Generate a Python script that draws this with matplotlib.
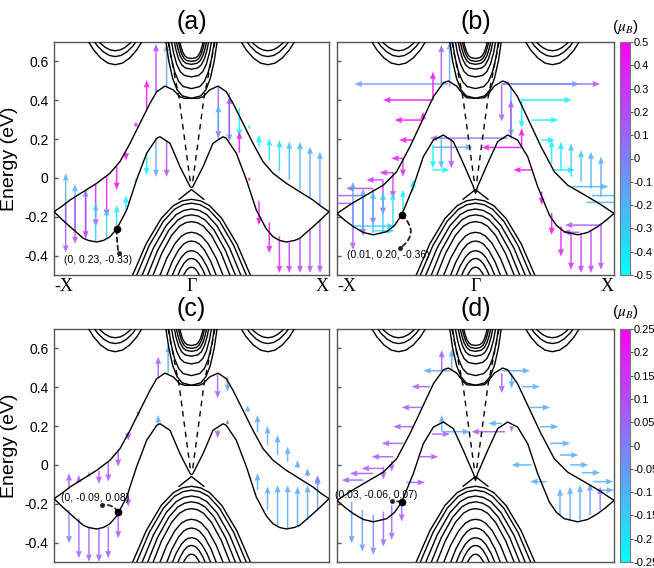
import numpy as np
import matplotlib
matplotlib.use('Agg')
from matplotlib import pyplot as plt
from matplotlib.colors import Normalize
from matplotlib.cm import ScalarMappable

plt.rcParams['font.family'] = ['Liberation Sans', 'DejaVu Sans']
plt.rcParams['mathtext.fontset'] = 'stix'

# surface bands, left half (-X .. Gamma), mirrored for the right half
UP_A_K = [-1.0, -0.94, -0.884, -0.787, -0.69, -0.593, -0.52, -0.447, -0.375, -0.302, -0.253, -0.193, -0.132, -0.084, -0.05, 0.0]
UP_A_E = [-0.174, -0.145, -0.114, -0.071, -0.028, 0.024, 0.084, 0.178, 0.281, 0.384, 0.444, 0.473, 0.453, 0.418, 0.41, 0.41]
LO_A_K = [-1.0, -0.94, -0.884, -0.787, -0.75, -0.69, -0.64, -0.593, -0.544, -0.471, -0.4, -0.326, -0.253, -0.229, -0.156, -0.084, -0.01, 0.0]
LO_A_E = [-0.174, -0.215, -0.251, -0.311, -0.322, -0.33, -0.322, -0.303, -0.263, -0.165, -0.011, 0.127, 0.204, 0.212, 0.178, 0.058, -0.045, -0.05]

UP_B_K = [-1.0, -0.9, -0.81, -0.665, -0.569, -0.473, -0.377, -0.304, -0.232, -0.196, -0.136, -0.09, -0.064, 0.0]
UP_B_E = [-0.183, -0.135, -0.097, -0.037, 0.032, 0.161, 0.307, 0.418, 0.49, 0.499, 0.473, 0.43, 0.413, 0.41]
LO_B_K = [-1.0, -0.94, -0.882, -0.81, -0.738, -0.641, -0.585, -0.533, -0.449, -0.377, -0.304, -0.232, -0.16, -0.088, -0.015, 0.0]
LO_B_E = [-0.183, -0.22, -0.251, -0.281, -0.293, -0.277, -0.245, -0.191, -0.045, 0.109, 0.195, 0.221, 0.187, 0.075, -0.045, -0.08]

# dashed lines (left one)
DASH_K = [-0.17, -0.09, -0.005]
DASH_E = [0.70, 0.41, -0.04]

# bulk bands
CB_BOTTOM = [0.41, 0.46, 0.52, 0.56, 0.585, 0.60, 0.615]
CB_HALF = [0.19, 0.17, 0.15, 0.13, 0.115, 0.10, 0.09]
CB_SHAPE_K = [0.0, 0.35, 0.55, 0.72, 0.87, 1.0]
CB_SHAPE_E = [0.0, 0.04, 0.14, 0.33, 0.62, 1.0]

SP_CENTER = 0.555
SP_BOTTOM = [0.583, 0.625, 0.655]
SP_HALF = [0.21, 0.17, 0.14]
SP_SHAPE_K = [0.0, 0.25, 0.5, 0.75, 1.0]
SP_SHAPE_E = [0.0, 0.06, 0.25, 0.56, 1.0]

VB_TOP = [-0.11, -0.13, -0.16, -0.19, -0.225, -0.28, -0.325, -0.375, -0.415, -0.46]
VB_HALF = [0.44, 0.41, 0.37, 0.33, 0.29, 0.24, 0.19, 0.15, 0.11, 0.07]
VB_SHAPE_K = [0.0, 0.15, 0.3, 0.5, 0.75, 1.0]
VB_SHAPE_E = [0.0, 0.02, 0.08, 0.24, 0.56, 1.0]
VTOP_K = [-0.09, 0.0, 0.09]
VTOP_E = [-0.11, -0.06, -0.11]

# spin arrows: vertical (k, E tail, E head, value), horizontal (E, k tail, k head, value)
VA_K = [-0.915, -0.915, -0.847, -0.847, -0.77, -0.77, -0.697, -0.697, -0.617, -0.617, -0.544, -0.544,
        -0.476, -0.476, -0.404, -0.404, -0.326, -0.326, -0.258, -0.258, -0.181, -0.181,
        0.195, 0.195, 0.275, 0.275, 0.348, 0.348, 0.42, 0.42, 0.491, 0.491, 0.566, 0.566,
        0.639, 0.639, 0.711, 0.711, 0.789, 0.789, 0.862, 0.862, 0.934, 0.934]
VA_E0 = [-0.23, -0.13, -0.27, -0.10, -0.315, -0.065, -0.03, -0.33, 0.01, -0.315, 0.06, -0.263,
         0.13, -0.17, 0.265, -0.02, 0.35, 0.127, 0.44, 0.204, 0.47, 0.19,
         0.47, 0.195, 0.44, 0.2, 0.36, 0.13, 0.27, 0.0, 0.16, -0.12, 0.09, -0.23,
         0.035, -0.30, -0.01, -0.33, -0.06, -0.31, -0.10, -0.265, -0.14, -0.215]
VA_E1 = [0.024, -0.385, -0.031, -0.34, -0.059, -0.311, -0.251, -0.131, -0.20, -0.157, -0.062, -0.14,
         0.09, -0.09, 0.29, 0.0, 0.504, 0.015, 0.69, 0.005, 0.69, 0.005,
         0.204, 0.375, 0.187, 0.418, 0.212, 0.238, 0.25, -0.02, 0.221, -0.243, 0.204, -0.388,
         0.195, -0.49, 0.187, -0.49, 0.187, -0.49, 0.161, -0.49, 0.135, -0.49]
VA_V = [-0.2, 0.15, -0.25, 0.2, -0.15, 0.3, 0.35, -0.3, 0.4, -0.35, 0.45, -0.4,
        0.45, -0.45, 0.45, -0.45, 0.45, -0.45, 0.25, -0.15, -0.15, 0.2,
        0.15, -0.2, -0.15, 0.2, -0.45, 0.45, -0.45, 0.45, -0.45, 0.45, -0.4, 0.4,
        -0.35, 0.35, -0.25, 0.3, -0.2, 0.25, -0.15, 0.2, -0.15, 0.2]

VB_K = [-0.247, -0.187, -0.307, -0.379, -0.524, -0.596, -0.668, -0.74, -0.812, -0.885,
        -0.885, -0.812, -0.74, -0.668, -0.596, -0.524, -0.451, -0.307, -0.247, -0.175,
        0.189, 0.256, 0.256, 0.333, 0.333, 0.478, 0.55, 0.55, 0.617, 0.617,
        0.69, 0.69, 0.762, 0.762, 0.834, 0.834, 0.906, 0.906]
VB_E0 = [0.487, 0.47, 0.40, 0.298, 0.101, 0.032, -0.011, -0.054, -0.09, -0.13,
         -0.24, -0.277, -0.285, -0.28, -0.25, -0.18, -0.07, 0.17, 0.212, 0.2,
         0.478, 0.47, 0.204, 0.41, 0.16, -0.07, -0.18, 0.075, -0.25, 0.04,
         -0.277, 0.006, -0.285, -0.02, -0.27, -0.054, -0.234, -0.097]
VB_E1 = [0.685, 0.70, 0.547, 0.341, 0.006, -0.105, -0.19, -0.243, -0.30, -0.371,
         -0.02, -0.054, -0.07, -0.075, -0.075, -0.06, -0.01, 0.049, 0.049, 0.05,
         0.29, 0.212, 0.401, 0.256, 0.256, -0.14, -0.294, 0.195, -0.405, 0.187,
         -0.474, 0.178, -0.49, 0.144, -0.49, 0.135, -0.474, 0.11]
VB_V = [0.15, -0.15, 0.45, 0.45, 0.35, 0.3, 0.25, 0.2, 0.15, 0.15,
        -0.15, -0.2, -0.25, -0.3, -0.35, -0.4, -0.45, -0.45, -0.2, 0.2,
        0.15, -0.15, 0.15, -0.45, 0.45, 0.45, 0.45, -0.45, 0.4, -0.4,
        0.35, -0.3, 0.3, -0.25, 0.25, -0.2, 0.2, -0.15]
HB_E = [0.484, 0.401, 0.298, 0.195, 0.101, 0.027, -0.01, -0.054, -0.091, -0.131,
        -0.248, -0.272, 0.041, 0.158, 0.205, 0.157,
        0.484, 0.484, 0.401, 0.298, 0.195, 0.041, 0.041, -0.045, -0.091, -0.126, -0.243, -0.28]
HB_K0 = [-0.199, -0.307, -0.384, -0.451, -0.524, -0.596, -0.668, -0.745, -0.812, -0.885,
         -0.885, -0.74, -0.307, -0.307, 0.232, 0.333,
         0.189, 0.189, 0.333, 0.406, 0.478, 0.55, 0.406, 0.694, 0.84, 0.80, 0.911, 0.75]
HB_K1 = [-0.873, -0.668, -0.584, -0.552, -0.608, -0.692, -0.788, -0.933, -1.1, -1.1,
         -0.584, -0.584, -0.187, -0.018, -0.33, 0.045,
         0.9, 0.75, 0.694, 0.598, 0.574, 0.718, 0.273, 0.96, 1.1, 1.1, 0.646, 0.63]
HB_V = [-0.1, 0.45, 0.45, 0.45, 0.4, 0.35, 0.3, 0.25, 0.2, 0.2,
        -0.3, -0.4, -0.45, -0.15, 0.1, 0.45,
        0.15, -0.1, -0.45, -0.45, -0.45, -0.4, 0.45, -0.2, -0.2, -0.2, 0.2, 0.25]

VC_K = [-0.891, -0.891, -0.819, -0.819, -0.746, -0.746, -0.673, -0.673, -0.605, -0.605,
        -0.533, -0.533, -0.46, -0.46, -0.387, -0.242, -0.17, -0.242,
        0.19, 0.19, 0.262, 0.262, 0.408, 0.48, 0.48, 0.553, 0.553, 0.626, 0.626,
        0.699, 0.699, 0.771, 0.771, 0.844, 0.844, 0.917, 0.917]
VC_E0 = [-0.121, -0.232, -0.09, -0.275, -0.06, -0.318, -0.03, -0.327, 0.017, -0.318,
         0.077, -0.241, 0.171, -0.146, 0.274, 0.454, 0.47, 0.21,
         0.472, 0.18, 0.455, 0.21, 0.274, 0.17, -0.13, 0.102, -0.232, 0.051, -0.31,
         0.017, -0.327, -0.017, -0.318, -0.06, -0.284, -0.103, -0.232]
VC_E1 = [-0.043, -0.404, -0.052, -0.481, -0.035, -0.499, -0.098, -0.5, -0.086, -0.481,
         -0.009, -0.378, 0.125, -0.215, 0.248, 0.557, 0.617, 0.257,
         0.343, 0.137, 0.377, 0.235, 0.308, 0.257, -0.043, 0.2, -0.11, 0.154, -0.104,
         0.094, -0.104, 0.025, -0.112, -0.017, -0.104, -0.052, -0.06]
VC_V = [0.08, 0.0, 0.08, 0.05, 0.08, 0.06, 0.1, 0.08, 0.1, 0.08,
        0.1, 0.1, 0.1, 0.1, 0.1, 0.08, -0.08, -0.08,
        0.08, 0.08, -0.08, 0.08, -0.08, -0.08, -0.08, -0.08, -0.08, -0.08, -0.08,
        -0.08, -0.08, -0.08, -0.08, -0.05, -0.08, 0.02, -0.03]

VD_K = [-0.244, -0.172, -0.244, 0.19, 0.261, -0.894, -0.817, -0.738, -0.665, -0.605,
        -0.533, -0.665, -0.605, 0.61, 0.683, 0.755, 0.827, 0.9, 0.261]
VD_E0 = [0.48, 0.49, 0.171, 0.472, 0.472, -0.19, -0.232, -0.258, -0.24, -0.207,
         -0.18, -0.009, 0.02, -0.258, -0.284, -0.284, -0.258, -0.232, 0.2]
VD_E1 = [0.592, 0.595, 0.257, 0.369, 0.394, -0.404, -0.447, -0.464, -0.421, -0.387,
         -0.292, -0.075, -0.035, -0.121, -0.112, -0.103, -0.095, -0.112, 0.17]
VD_V = [0.08, -0.08, -0.08, 0.08, -0.08, -0.05, -0.05, -0.02, 0.05, 0.06,
        0.08, 0.08, 0.08, -0.08, -0.08, -0.08, -0.04, 0.03, 0.08]
HD_E = [0.485, 0.403, 0.296, 0.197, 0.159, 0.111, 0.042, 0.042, -0.018, -0.044, -0.078, -0.09,
        0.171, 0.171, 0.214,
        0.485, 0.403, 0.296, 0.197, 0.111, 0.051, 0.0, 0.0, -0.04, -0.086, -0.086, -0.13]
HD_K0 = [-0.184, -0.328, -0.389, -0.449, -0.316, -0.521, -0.593, -0.401, -0.665, -0.738, -0.81, -0.497,
         -0.232, 0.213, 0.19,
         0.19, 0.334, 0.394, 0.466, 0.538, 0.61, 0.683, 0.406, 0.767, 0.851, 0.514, 0.875]
HD_K1 = [-0.377, -0.461, -0.533, -0.593, -0.184, -0.677, -0.75, -0.268, -0.822, -0.906, -0.966, -0.364,
         -0.04, -0.028, 0.093,
         0.394, 0.466, 0.538, 0.598, 0.683, 0.743, 0.815, 0.26, 0.9, 0.995, 0.394, 1.0]
HD_V = [-0.08, 0.08, 0.08, 0.08, 0.08, 0.08, 0.08, 0.08, 0.08, 0.08, 0.08, 0.08,
        -0.08, 0.1, -0.08,
        -0.08, -0.08, -0.08, -0.08, -0.08, -0.08, -0.08, -0.1, -0.08, -0.08, -0.08, -0.08]

# labels
PANEL_TITLES = ['(a)', '(b)', '(c)', '(d)']
X_TICKS = [-1.0, 0.0, 1.0]
X_LABELS = ['-X', '\u0393', 'X']
Y_TICKS = [-0.4, -0.2, 0.0, 0.2, 0.4, 0.6]
Y_LABELS = ['-0.4', '-0.2', '0', '0.2', '0.4', '0.6']
CB1_TICKS = [-0.5, -0.4, -0.3, -0.2, -0.1, 0.0, 0.1, 0.2, 0.3, 0.4, 0.5]
CB1_LABELS = ['-0.5', '-0.4', '-0.3', '-0.2', '-0.1', '0', '0.1', '0.2', '0.3', '0.4', '0.5']
CB2_TICKS = [-0.25, -0.2, -0.15, -0.1, -0.05, 0.0, 0.05, 0.1, 0.15, 0.2, 0.25]
CB2_LABELS = ['-0.25', '-0.2', '-0.15', '-0.1', '-0.05', '0', '0.05', '0.1', '0.15', '0.2', '0.25']

# annotations: band point, end point, text position, text
NOTE_PT = [(-0.544, -0.265), (-0.533, -0.191), (-0.533, -0.241), (-0.533, -0.189)]
NOTE_END = [(-0.53, -0.389), (-0.545, -0.363), (-0.654, -0.206), (-0.6, -0.186)]
NOTE_TXT = [(-0.68, -0.423), (-0.63, -0.397), (-0.70, -0.172), (-0.72, -0.155)]
NOTE_STR = ['(0, 0.23, -0.33)', '(0.01, 0.20, -0.36)', '(0, -0.09, 0.08)', '(0.03, -0.06, 0.07)']
NOTE_RAD = [0.05, -0.6, 0.3, 0.0]

W, H = 654, 568


def mirror(k, e):
    k = np.asarray(k)
    e = np.asarray(e)
    return np.concatenate([k, -k[::-1]]), np.concatenate([e, e[::-1]])


def sym_curve(k, e):
    k = np.asarray(k)
    e = np.asarray(e)
    return np.concatenate([-k[::-1], k[1:]]), np.concatenate([e[::-1], e[1:]])


def draw_bulk(ax):
    kw = dict(color='black', lw=1.0, zorder=4)
    for bottom, half in zip(CB_BOTTOM, CB_HALF):
        k, e = sym_curve(np.array(CB_SHAPE_K) * half, bottom + np.array(CB_SHAPE_E) * (0.72 - bottom))
        ax.plot(k, e, **kw)
    for bottom, half in zip(SP_BOTTOM, SP_HALF):
        k, e = sym_curve(np.array(SP_SHAPE_K) * half, bottom + np.array(SP_SHAPE_E) * (0.72 - bottom))
        ax.plot(k - SP_CENTER, e, **kw)
        ax.plot(k + SP_CENTER, e, **kw)
    for top, half in zip(VB_TOP, VB_HALF):
        k, e = sym_curve(np.array(VB_SHAPE_K) * half, top - np.array(VB_SHAPE_E) * (top + 0.52))
        ax.plot(k, e, **kw)
    ax.plot(VTOP_K, VTOP_E, **kw)


def draw_surface(ax, upk, upe, lok, loe):
    for k, e in [(upk, upe), (lok, loe)]:
        kk, ee = mirror(k, e)
        ax.plot(kk, ee, color='black', lw=1.0, zorder=5)
    dk = np.array(DASH_K)
    for s in (1, -1):
        ax.plot(s * dk, DASH_E, color='black', lw=1.0, ls=(0, (4, 3.5)), zorder=5)


def draw_arrows(ax, norm, vk, ve0, ve1, vv, he=None, hk0=None, hk1=None, hv=None):
    kw = dict(cmap='cool', norm=norm, angles='xy', scale_units='xy', scale=1,
              width=0.0055, headwidth=4, headlength=5, headaxislength=4.5, alpha=0.85, zorder=3)
    if he is not None:
        hk0 = np.array(hk0)
        ax.quiver(hk0, he, np.array(hk1) - hk0, np.zeros(len(he)), hv, **kw)
    ve0 = np.array(ve0)
    ax.quiver(vk, ve0, np.zeros(len(vk)), np.array(ve1) - ve0, vv, **kw)


def annotate(ax, i):
    p, q, t = NOTE_PT[i], NOTE_END[i], NOTE_TXT[i]
    ax.annotate('', xy=q, xytext=p,
                arrowprops=dict(arrowstyle='-', ls=(0, (2.5, 2)), lw=1.3, color='#222222',
                                connectionstyle='arc3,rad=%g' % NOTE_RAD[i], shrinkA=0, shrinkB=0),
                zorder=7)
    ax.plot(*p, 'o', color='black', ms=4.5, zorder=8)
    ax.plot(*q, 'o', color='#222222', ms=2.5, zorder=8)
    ax.text(t[0], t[1], NOTE_STR[i], fontsize=7.5, ha='center', va='center', zorder=8)


def setup(ax, title, left, bottom_row):
    ax.set_xlim(-1, 1)
    ax.set_ylim(-0.5, 0.7)
    for sp in ax.spines.values():
        sp.set_color('#555555')
        sp.set_linewidth(1.0)
    ax.set_yticks(Y_TICKS)
    ax.tick_params(axis='y', direction='in', length=3, width=1, color='#555555', labelsize=10, pad=4)
    ax.set_xticks(X_TICKS)
    ax.tick_params(axis='x', length=0, pad=2)
    if bottom_row:
        ax.set_xticklabels([])
    else:
        ax.set_xticklabels(X_LABELS, family=['Liberation Serif', 'DejaVu Serif'], fontsize=13)
        labels = ax.get_xticklabels()
        labels[0].set_ha('left')
        labels[2].set_ha('right')
    if left:
        ax.set_yticklabels(Y_LABELS)
        ax.set_ylabel('Energy (eV)', fontsize=14)
        ax.yaxis.set_label_coords(-0.131, 0.5)
    else:
        ax.set_yticklabels([])
    ax.text(0.5, 1.085, title, transform=ax.transAxes, ha='center', va='center', fontsize=18)


def colorbar(fig, rect, norm, ticks, labels, label_y):
    cax = fig.add_axes(rect)
    cb = fig.colorbar(ScalarMappable(norm=norm, cmap='cool'), cax=cax)
    cb.set_ticks(ticks)
    cb.set_ticklabels(labels)
    cb.outline.set_edgecolor('#777777')
    cb.outline.set_linewidth(0.8)
    cax.tick_params(length=2, width=0.8, color='#555555', labelsize=8, pad=0.5)
    fig.text(625 / W, 1 - label_y / H, r'($\mu_B$)', fontsize=11, ha='center', va='center')


def main():
    fig = plt.figure(figsize=(W / 100, H / 100), dpi=100)
    rects = [
        [54 / W, 1 - 275 / H, 275 / W, 233 / H],
        [337 / W, 1 - 275 / H, 277 / W, 233 / H],
        [54 / W, 1 - 562 / H, 275 / W, 233 / H],
        [337 / W, 1 - 562 / H, 277 / W, 233 / H],
    ]
    axes = [fig.add_axes(r) for r in rects]
    norm1 = Normalize(-0.5, 0.5)
    norm2 = Normalize(-0.25, 0.25)
    bands = [(UP_A_K, UP_A_E, LO_A_K, LO_A_E), (UP_B_K, UP_B_E, LO_B_K, LO_B_E),
             (UP_A_K, UP_A_E, LO_A_K, LO_A_E), (UP_B_K, UP_B_E, LO_B_K, LO_B_E)]
    for i, ax in enumerate(axes):
        draw_bulk(ax)
        draw_surface(ax, *bands[i])
        setup(ax, PANEL_TITLES[i], i % 2 == 0, i >= 2)
        annotate(ax, i)
    draw_arrows(axes[0], norm1, VA_K, VA_E0, VA_E1, VA_V)
    draw_arrows(axes[1], norm1, VB_K, VB_E0, VB_E1, VB_V, HB_E, HB_K0, HB_K1, HB_V)
    draw_arrows(axes[2], norm2, VC_K, VC_E0, VC_E1, VC_V)
    draw_arrows(axes[3], norm2, VD_K, VD_E0, VD_E1, VD_V, HD_E, HD_K0, HD_K1, HD_V)

    colorbar(fig, [620 / W, 1 - 275 / H, 10 / W, 233 / H], norm1, CB1_TICKS, CB1_LABELS, 27)
    colorbar(fig, [620 / W, 1 - 562 / H, 10 / W, 233 / H], norm2, CB2_TICKS, CB2_LABELS, 312)
    fig.savefig('out.png', dpi=100)


if __name__ == '__main__':
    main()
